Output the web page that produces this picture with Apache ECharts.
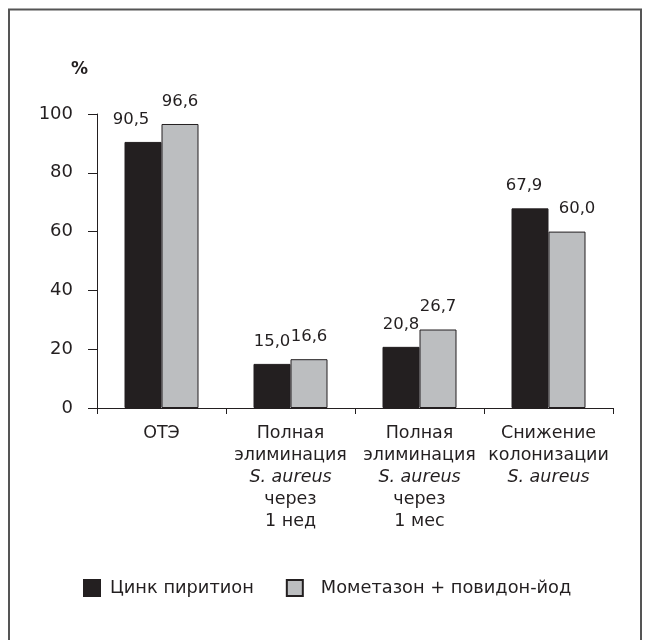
<!DOCTYPE html>
<html>
<head>
<meta charset="utf-8">
<script src="https://cdn.jsdelivr.net/npm/echarts@6/dist/echarts.min.js"></script>
<style>
  html, body { margin: 0; padding: 0; background: #fff; }
  #chart { width: 647px; height: 640px; }
</style>
</head>
<body>
<div id="chart"></div>
<script>
// Categories (multi-line axis labels; "S. aureus" lines are set in italics)
const categories = [
  'ОТЭ',
  'Полная\nэлиминация\nS. aureus\nчерез\n1 нед',
  'Полная\nэлиминация\nS. aureus\nчерез\n1 мес',
  'Снижение\nколонизации\nS. aureus'
];

const seriesNames = ['Цинк пиритион', 'Мометазон + повидон-йод'];

// Percent values per category
const zincValues = [90.5, 15.0, 20.8, 67.9];
const mometasoneValues = [96.6, 16.6, 26.7, 60.0];

// Value axis ticks
const yMin = 0;
const yMax = 100;
const yStep = 20;

// Horizontal nudge of individual value labels (px)
const zincLabelShift = [-12, 0, 0, -6];
const mometasoneLabelShift = [0, 0, 0, 10];

// Space between each legend swatch and its text (px)
const legendTextPad = [5, 13];

const INK = '#231f20';
const GREY = '#bcbec0';
const FONT = 'DejaVu Sans';

function fmt(v) {
  return v.toFixed(1).replace('.', ',');
}

function buildData(values, shifts) {
  return values.map((v, i) => ({
    value: v,
    label: { offset: [shifts[i], 0] }
  }));
}

const chart = echarts.init(document.getElementById('chart'), null, { renderer: 'canvas' });

const labelCommon = {
  show: true,
  position: 'top',
  distance: 14,
  color: INK,
  fontFamily: FONT,
  fontSize: 16.5,
  formatter: p => fmt(p.value)
};

chart.setOption({
  animation: false,
  backgroundColor: '#fff',
  textStyle: { fontFamily: FONT, color: INK },
  graphic: [
    {
      type: 'rect',
      z: -1,
      silent: true,
      shape: { x: 9, y: 9.5, width: 632, height: 700 },
      style: { fill: 'none', stroke: '#555555', lineWidth: 2 }
    },
    {
      type: 'text',
      left: 71,
      top: 61,
      silent: true,
      style: {
        text: '%',
        fill: INK,
        font: 'bold 17px ' + FONT
      }
    }
  ],
  grid: {
    left: 97,
    right: 34,
    top: 114,
    bottom: 232,
    containLabel: false
  },
  legend: {
    left: 78,
    top: 574,
    itemWidth: 16,
    itemHeight: 16,
    itemGap: 32,
    icon: 'rect',
    textStyle: {
      fontFamily: FONT,
      fontSize: 17.8,
      color: INK
    },
    data: seriesNames.map((name, i) => ({
      name: name,
      textStyle: { padding: [0, 0, 0, legendTextPad[i]] }
    }))
  },
  xAxis: {
    type: 'category',
    data: categories,
    axisLine: { show: true, lineStyle: { color: INK, width: 1 } },
    axisTick: { show: true, length: 6, lineStyle: { color: INK, width: 1 } },
    axisLabel: {
      margin: 14,
      color: INK,
      fontFamily: FONT,
      fontSize: 17.5,
      lineHeight: 22,
      interval: 0,
      formatter: value => value.split('\n')
        .map(line => line === 'S. aureus' ? '{i|' + line + '}' : '{n|' + line + '}')
        .join('\n'),
      rich: {
        n: { fontFamily: FONT, fontSize: 17.5, lineHeight: 22, color: INK },
        i: { fontFamily: FONT, fontSize: 17.5, lineHeight: 22, color: INK, fontStyle: 'italic' }
      }
    }
  },
  yAxis: {
    type: 'value',
    min: yMin,
    max: yMax,
    interval: yStep,
    axisLine: { show: true, lineStyle: { color: INK, width: 1 } },
    axisTick: { show: true, length: 9, lineStyle: { color: INK, width: 1 } },
    splitLine: { show: false },
    axisLabel: {
      margin: 24,
      color: INK,
      fontFamily: FONT,
      fontSize: 18
    }
  },
  series: [
    {
      name: seriesNames[0],
      type: 'bar',
      barWidth: 37,
      barGap: '0%',
      itemStyle: { color: INK, borderColor: INK, borderWidth: 1 },
      label: labelCommon,
      data: buildData(zincValues, zincLabelShift)
    },
    {
      name: seriesNames[1],
      type: 'bar',
      barWidth: 37,
      barGap: '0%',
      itemStyle: { color: GREY, borderColor: INK, borderWidth: 1 },
      label: labelCommon,
      data: buildData(mometasoneValues, mometasoneLabelShift)
    }
  ]
});
</script>
</body>
</html>
